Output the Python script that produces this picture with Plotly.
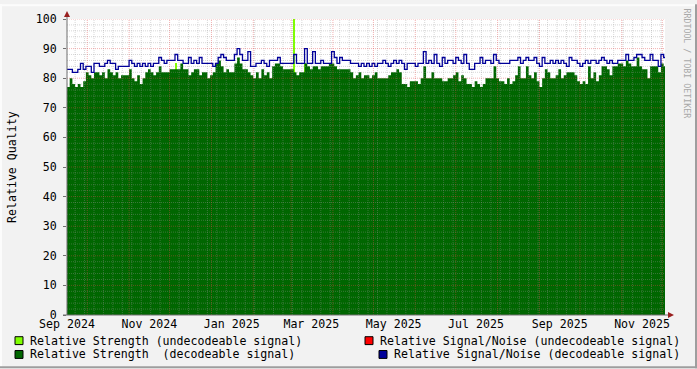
import pandas as pd
import plotly.graph_objects as go

# ---------------- data ----------------
series_start = "2024-09-16"
sample_step_days = 2

strength_decodeable = [
    77, 80, 78, 77, 78, 77, 79, 82, 81, 80,
    82, 82, 81, 82, 80, 83, 82, 81, 82, 80,
    81, 81, 81, 83, 80, 79, 81, 78, 80, 82,
    83, 82, 81, 82, 84, 82, 82, 82, 83, 83,
    83, 83, 85, 83, 83, 81, 82, 83, 83, 81,
    82, 82, 80, 81, 82, 85, 86, 84, 82, 83,
    82, 82, 85, 87, 85, 83, 83, 82, 81, 80,
    82, 80, 83, 81, 82, 80, 84, 85, 85, 84,
    83, 83, 83, 83, 82, 81, 82, 82, 85, 84,
    83, 84, 84, 83, 84, 84, 84, 85, 85, 84,
    83, 83, 83, 83, 83, 82, 80, 81, 82, 80,
    81, 81, 80, 81, 82, 80, 80, 80, 80, 81,
    82, 82, 83, 82, 78, 78, 77, 79, 79, 79,
    78, 80, 84, 80, 80, 82, 80, 80, 80, 79,
    79, 80, 80, 81, 82, 79, 81, 80, 78, 78,
    77, 79, 78, 77, 78, 80, 80, 80, 84, 80,
    79, 79, 78, 80, 78, 79, 81, 84, 80, 80,
    84, 81, 80, 82, 79, 77, 80, 83, 82, 80,
    80, 81, 83, 80, 81, 82, 82, 82, 81, 79,
    78, 79, 78, 84, 80, 82, 79, 81, 84, 84,
    83, 81, 84, 84, 85, 85, 84, 86, 85, 84,
    84, 87, 84, 83, 83, 80, 84, 84, 84, 82,
    85, 84,
]

snr_decodeable = [
    83, 83, 82, 82, 83, 85, 83, 84, 84, 82,
    85, 85, 84, 84, 85, 86, 85, 85, 83, 84,
    84, 84, 84, 86, 85, 84, 85, 84, 85, 84,
    85, 84, 85, 85, 87, 86, 85, 86, 86, 86,
    88, 86, 86, 85, 85, 87, 85, 86, 85, 87,
    85, 85, 85, 85, 84, 85, 87, 88, 87, 86,
    86, 86, 88, 90, 88, 86, 86, 89, 84, 84,
    85, 85, 86, 85, 84, 86, 86, 86, 87, 85,
    85, 85, 85, 85, 88, 85, 85, 85, 90, 85,
    85, 89, 85, 85, 86, 85, 85, 85, 89, 87,
    85, 87, 86, 86, 86, 85, 85, 85, 84, 85,
    84, 85, 84, 85, 84, 85, 85, 86, 85, 84,
    85, 86, 85, 86, 85, 83, 85, 85, 85, 84,
    85, 85, 89, 85, 86, 85, 88, 85, 84, 87,
    85, 86, 86, 85, 87, 86, 85, 88, 85, 83,
    83, 85, 85, 87, 85, 86, 86, 85, 88, 86,
    85, 85, 85, 85, 86, 86, 86, 87, 85, 86,
    87, 86, 86, 87, 85, 84, 87, 85, 85, 86,
    85, 86, 85, 86, 85, 84, 87, 86, 86, 85,
    84, 85, 86, 85, 86, 86, 85, 86, 87, 86,
    85, 86, 85, 85, 86, 86, 86, 88, 86, 86,
    87, 88, 88, 87, 86, 86, 88, 86, 86, 84,
    88, 87,
]

undecodeable_dates = ["2024-12-05T12:00", "2025-03-03T12:00", "2025-03-11T12:00"]
strength_undecodeable = [85, 100, 85]

x_range = ["2024-09-16", "2025-12-03"]
label_dates = ["2024-09-16", "2024-11-16", "2025-01-16", "2025-03-16",
               "2025-05-16", "2025-07-16", "2025-09-16", "2025-11-16"]
label_text = ["Sep 2024", "Nov 2024", "Jan 2025", "Mar 2025",
              "May 2025", "Jul 2025", "Sep 2025", "Nov 2025"]
y_ticks = list(range(0, 101, 10))

legend_items = [
    ("Relative Strength (undecodeable signal)", "#80FF00"),
    ("Relative Strength  (decodeable signal)", "#006600"),
    ("Relative Signal/Noise (undecodeable signal)", "#FF0000"),
    ("Relative Signal/Noise (decodeable signal)", "#000099"),
]

# ---------------- layout constants ----------------
W, H = 697, 369
L, R, T, B = 67, 32, 15, 54
PW, PH = W - L - R, H - T - B
FONT = "DejaVu Sans Mono"


def px(x):
    return (x - L) / PW


def py(y):
    return (T + PH - y) / PH


dates = pd.date_range(series_start, periods=len(strength_decodeable),
                      freq=f"{sample_step_days}D")
step_x = list(dates) + [dates[-1] + pd.Timedelta(days=sample_step_days)]

fig = go.Figure()

# undecodeable strength (drawn below decodeable)
fig.add_trace(go.Bar(
    x=pd.to_datetime(undecodeable_dates), y=strength_undecodeable,
    width=0.8 * 86400000, marker=dict(color="#80FF00", line=dict(width=0)),
    hoverinfo="skip", showlegend=False))

# decodeable strength area
fig.add_trace(go.Scatter(
    x=step_x, y=strength_decodeable + [strength_decodeable[-1]],
    mode="lines", line=dict(width=0, shape="hv", color="#006600"),
    fill="tozeroy", fillcolor="#006600", hoverinfo="skip", showlegend=False))

# grid (drawn over the area, like rrdtool)
x0d, x1d = pd.Timestamp(x_range[0]), pd.Timestamp(x_range[1])
months = pd.date_range(x0d, x1d, freq="MS")
weeks = [d for d in pd.date_range(x0d, x1d, freq="W-SUN") if d.day != 1]


def vlines(ds):
    xs, ys = [], []
    for d in ds:
        xs += [d, d, None]
        ys += [0, 100, None]
    return xs, ys


def hlines(vals):
    xs, ys = [], []
    for v in vals:
        xs += [x0d, x1d, None]
        ys += [v, v, None]
    return xs, ys


minor_y = [v for v in range(2, 100, 2) if v % 10 != 0]
major_y = list(range(10, 101, 10))
grid_minor = "rgba(150,150,150,0.38)"
grid_major = "rgba(225,70,70,0.42)"
for (xs, ys), col in [(vlines(weeks), grid_minor), (hlines(minor_y), grid_minor),
                      (vlines(months), grid_major), (hlines(major_y), grid_major)]:
    fig.add_trace(go.Scatter(x=xs, y=ys, mode="lines",
                             line=dict(color=col, width=1, dash="1px,1px"),
                             hoverinfo="skip", showlegend=False))

# decodeable SNR line
fig.add_trace(go.Scatter(
    x=step_x, y=snr_decodeable + [snr_decodeable[-1]],
    mode="lines", line=dict(width=1.3, shape="hv", color="#000099"),
    hoverinfo="skip", showlegend=False))

shapes = []
# frame of the image
shapes += [
    dict(type="rect", xref="paper", yref="paper", x0=px(0), x1=px(W), y0=py(0), y1=py(2),
         fillcolor="#FCFCFC", line=dict(width=0), layer="above"),
    dict(type="rect", xref="paper", yref="paper", x0=px(0), x1=px(2), y0=py(0), y1=py(H),
         fillcolor="#FCFCFC", line=dict(width=0), layer="above"),
    dict(type="rect", xref="paper", yref="paper", x0=px(0), x1=px(W), y0=py(H - 2), y1=py(H),
         fillcolor="#9E9E9E", line=dict(width=0), layer="above"),
    dict(type="rect", xref="paper", yref="paper", x0=px(W - 2), x1=px(W), y0=py(0), y1=py(H),
         fillcolor="#9E9E9E", line=dict(width=0), layer="above"),
]
# axes
axis_col = "#6E6E6E"
shapes += [
    dict(type="line", xref="paper", yref="paper", x0=0, x1=0, y0=py(T + PH + 0), y1=py(11),
         line=dict(color=axis_col, width=1), layer="above"),
    dict(type="line", xref="paper", yref="paper", x0=px(63), x1=px(670), y0=0, y1=0,
         line=dict(color=axis_col, width=1), layer="above"),
]
arrow_col = "#991F1F"
shapes += [
    dict(type="path", xref="paper", yref="paper", xsizemode="pixel", ysizemode="pixel",
         xanchor=0, yanchor=1, path="M-3,2 L3,2 L0,8 Z",
         fillcolor=arrow_col, line=dict(width=0), layer="above"),
    dict(type="path", xref="paper", yref="paper", xsizemode="pixel", ysizemode="pixel",
         xanchor=1, yanchor=0, path="M3,-3 L3,3 L9,0 Z",
         fillcolor=arrow_col, line=dict(width=0), layer="above"),
]

annotations = []
# legend
legend_pos = [(15, 341, 30), (15, 355, 30), (365, 341, 380), (379, 355, 394)]
for (label, col), (sx, cy, tx) in zip(legend_items, legend_pos):
    shapes.append(dict(type="rect", xref="paper", yref="paper",
                       x0=px(sx), x1=px(sx + 8), y0=py(cy - 4), y1=py(cy + 4),
                       fillcolor=col, line=dict(color="#000000", width=1), layer="above"))
    annotations.append(dict(text=label, xref="paper", yref="paper", x=px(tx - 2), y=py(cy),
                            xanchor="left", yanchor="middle", showarrow=False,
                            font=dict(family=FONT, size=11.6, color="#000000")))

annotations.append(dict(text="Relative Quality", xref="paper", yref="paper",
                        x=px(12), y=0.5, textangle=-90, xanchor="center", yanchor="middle",
                        showarrow=False, font=dict(family=FONT, size=11.6, color="#000000")))
annotations.append(dict(text="RRDTOOL / TOBI OETIKER", xref="paper", yref="paper",
                        x=px(687), y=py(60), textangle=90, xanchor="center", yanchor="middle",
                        showarrow=False, font=dict(family=FONT, size=8.3, color="#A8A8A8")))

fig.update_layout(
    width=W, height=H,
    margin=dict(l=L, r=R, t=T, b=B, pad=0),
    paper_bgcolor="#F2F2F2", plot_bgcolor="#FFFFFF",
    bargap=0, showlegend=False,
    shapes=shapes, annotations=annotations,
    xaxis=dict(type="date", range=x_range, tickvals=label_dates, ticktext=label_text,
               showgrid=False, zeroline=False, showline=False, ticks="",
               tickfont=dict(family=FONT, size=11.6, color="#000000"), fixedrange=True),
    yaxis=dict(range=[0, 100], tickvals=y_ticks, showgrid=False, zeroline=False,
               showline=False, ticks="outside", ticklen=3, tickcolor=axis_col,
               ticklabelstandoff=4,
               tickfont=dict(family=FONT, size=11.6, color="#000000"), fixedrange=True),
)

fig.write_html("out.html")
